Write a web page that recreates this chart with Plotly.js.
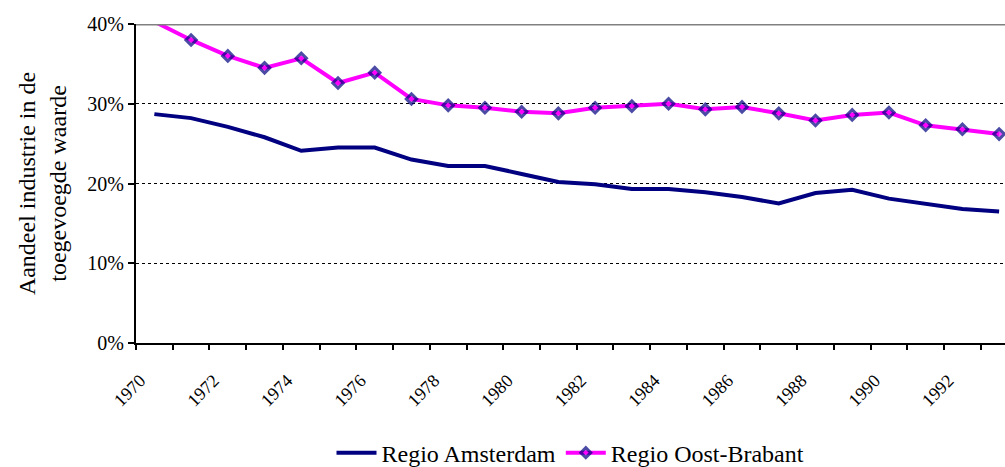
<!DOCTYPE html>
<html>
<head>
<meta charset="utf-8">
<script src="https://cdn.plot.ly/plotly-3.0.1.min.js"></script>
<style>
  html, body { margin: 0; padding: 0; background: #fff; }
  #chart { width: 1005px; height: 467px; }
</style>
</head>
<body>
<div id="chart"></div>
<script>
// Years on the category axis
const years = [1970, 1971, 1972, 1973, 1974, 1975, 1976, 1977, 1978, 1979, 1980, 1981,
               1982, 1983, 1984, 1985, 1986, 1987, 1988, 1989, 1990, 1991, 1992, 1993];

// Share of industry in value added (%)
const amsterdam = [28.7, 28.2, 27.1, 25.8, 24.1, 24.5, 24.5, 23.0, 22.2, 22.2, 21.2, 20.2,
                   19.9, 19.3, 19.3, 18.9, 18.3, 17.5, 18.8, 19.2, 18.1, 17.4, 16.8, 16.5];
const oostBrabant = [40.3, 38.0, 36.0, 34.5, 35.7, 32.6, 33.9, 30.6, 29.8, 29.5, 29.0, 28.8,
                     29.5, 29.7, 30.0, 29.3, 29.6, 28.8, 27.9, 28.6, 28.9, 27.3, 26.8, 26.2];

// Labels every second year
const labelYears = years.filter(y => y % 2 === 0);

const serif = 'Liberation Serif';

// first point sits on the top border, Excel drew no marker there
const markerSizes = years.map((y, i) => i === 0 ? 0 : 8);

Plotly.newPlot('chart', [{
  x: years,
  y: amsterdam,
  type: 'scatter',
  mode: 'lines',
  name: 'Regio Amsterdam',
  line: { color: '#000080', width: 4 }
}, {
  x: years,
  y: oostBrabant,
  type: 'scatter',
  mode: 'lines+markers',
  name: 'Regio Oost-Brabant',
  line: { color: '#ff00ff', width: 4 },
  marker: {
    symbol: 'diamond',
    size: markerSizes,
    color: '#ff00ff',
    line: { color: '#000080', width: 3 }
  }
}], {
  width: 1005,
  height: 467,
  margin: { l: 136, r: 0, t: 24, b: 124, autoexpand: false },
  paper_bgcolor: '#fff',
  plot_bgcolor: '#fff',
  font: { family: serif, color: '#000' },
  showlegend: true,
  legend: {
    orientation: 'h',
    x: 0.5, xanchor: 'center',
    y: -0.345, yanchor: 'middle',
    font: { family: serif, size: 24, color: '#000' },
    itemwidth: 40
  },
  xaxis: {
    range: [1969.5, 1993.16],
    automargin: false,
    tickmode: 'array',
    tickvals: labelYears,
    ticktext: labelYears.map(String),
    tickangle: -45,
    ticks: '',
    tickfont: { family: serif, size: 18 },
    ticklabelshift: -14,
    ticklabelstandoff: 18,
    showgrid: false,
    zeroline: false,
    showline: true,
    linecolor: '#000',
    linewidth: 2,
    minor: {
      tick0: 1969.5,
      dtick: 1,
      ticks: 'outside',
      ticklen: 5,
      tickwidth: 2,
      tickcolor: '#000',
      showgrid: false
    }
  },
  yaxis: {
    range: [0, 40],
    automargin: false,
    dtick: 10,
    ticksuffix: '%',
    ticks: 'outside',
    ticklen: 6,
    tickwidth: 2,
    tickcolor: '#000',
    tickfont: { family: serif, size: 20 },
    showgrid: true,
    gridcolor: '#000',
    gridwidth: 1,
    griddash: 'dot',
    zeroline: false,
    showline: true,
    linecolor: '#000',
    linewidth: 2,
    title: {
      text: 'Aandeel industrie in de<br>toegevoegde waarde',
      font: { family: serif, size: 24 },
      standoff: 14
    }
  },
  shapes: [{
    type: 'line', xref: 'paper', yref: 'y',
    x0: 0, x1: 1, y0: 40, y1: 40,
    line: { color: '#808080', width: 3 }
  }]
}, { displayModeBar: false });
</script>
</body>
</html>
